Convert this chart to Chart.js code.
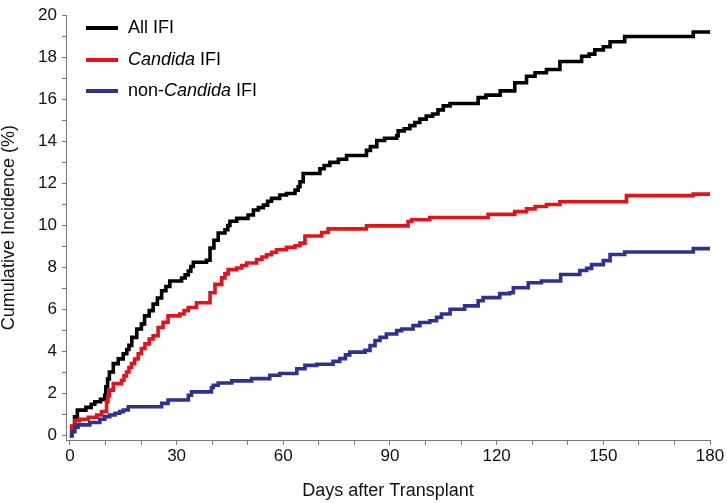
<!DOCTYPE html>
<html>
<head>
<meta charset="utf-8">
<script src="https://cdn.jsdelivr.net/npm/chart.js@4.4.1/dist/chart.umd.min.js"></script>
<style>
  html, body { margin: 0; padding: 0; background: #fff; }
  #wrap { width: 727px; height: 503px; position: relative; }
</style>
</head>
<body>
<div id="wrap"><canvas id="c" width="727" height="503"></canvas></div>
<script>
// ---- Data ----
const seriesLabels = ['All IFI', 'Candida IFI', 'non-Candida IFI'];

const allDays = [0,0.5,1.3,2.1,4.5,6.0,7.0,8.6,9.8,10.1,10.6,11.1,12.2,13.6,15.0,16.0,16.6,17.4,18.8,20.1,21.0,22.3,23.4,24.6,25.8,27.0,28.1,31.4,32.4,33.3,34.0,34.7,38.4,39.4,40.5,41.7,43.6,44.4,45.0,46.9,50.1,51.6,53.0,54.4,55.6,56.7,59.0,60.9,63.3,64.2,64.7,65.6,70.3,71.5,73.1,75.5,77.8,83.4,84.5,86.3,88.5,91.9,92.3,94.0,95.6,97.0,98.4,100.2,102.0,103.5,105.0,106.9,114.8,117.0,121.0,125.1,128.4,130.8,134.0,137.8,143.9,146.0,147.6,150.0,151.9,156.0,175.3,180];
const allCIF  = [0,0.45,0.9,1.22,1.35,1.5,1.62,1.73,1.93,2.33,2.7,3.03,3.43,3.66,3.9,4.1,4.3,4.68,5.08,5.32,5.7,5.95,6.26,6.55,6.9,7.1,7.36,7.5,7.65,7.83,8.05,8.25,8.35,8.93,9.3,9.64,9.8,10.0,10.2,10.34,10.5,10.74,10.85,10.97,11.15,11.29,11.45,11.52,11.68,11.84,12.08,12.47,12.7,12.85,13.0,13.15,13.33,13.57,13.75,14.04,14.15,14.27,14.5,14.6,14.75,14.9,15.06,15.2,15.3,15.5,15.69,15.8,16.08,16.2,16.4,16.79,17.1,17.26,17.42,17.8,18.05,18.15,18.35,18.5,18.74,18.99,19.2,19.2];

const candidaDays = [0,0.5,1.4,2.8,5.2,7.5,8.9,10.3,10.7,11.1,12.2,14.5,15.2,15.9,16.6,17.3,18.2,19.2,20.1,21.1,22.3,23.4,24.8,26.2,27.6,30.9,32.1,33.3,35.6,39.4,40.8,42.7,43.6,44.5,46.9,48.3,49.7,52.5,54.0,55.3,56.7,58.1,60.9,63.3,64.7,66.1,70.8,72.6,83.4,95.1,96.1,101.2,117.6,125.1,128.4,130.8,134.0,137.8,156.5,175.3,180];
const candidaCIF  = [0,0.45,0.72,0.79,0.88,0.99,1.15,1.62,1.9,2.17,2.48,2.64,2.85,3.03,3.25,3.43,3.65,3.9,4.15,4.37,4.6,4.76,5.15,5.4,5.7,5.79,5.95,6.1,6.33,6.8,7.2,7.51,7.7,7.9,7.98,8.1,8.22,8.38,8.5,8.61,8.73,8.85,8.96,9.04,9.16,9.5,9.67,9.84,9.98,10.19,10.27,10.38,10.53,10.66,10.79,10.9,11.0,11.13,11.42,11.49,11.49];

const nonCandidaDays = [0,0.6,1.4,2.3,5.6,8.4,9.8,11.2,12.7,14.0,15.0,16.4,25.8,27.6,33.3,34.2,39.8,40.3,41.7,45.5,51.1,56.2,59.0,63.8,66.1,69.4,74.0,75.9,77.5,78.7,83.0,84.4,85.8,87.2,89.0,91.9,93.3,96.5,98.4,101.2,103.1,104.5,106.9,111.0,114.8,116.2,120.9,123.7,124.7,128.9,132.6,138.0,143.4,145.3,146.7,150.0,151.9,156.0,175.3,180];
const nonCandidaCIF  = [0,0.2,0.41,0.52,0.63,0.79,0.91,0.99,1.07,1.15,1.23,1.38,1.54,1.7,1.93,2.09,2.3,2.4,2.51,2.61,2.72,2.88,2.96,3.19,3.35,3.4,3.54,3.67,3.85,3.98,4.06,4.29,4.53,4.68,4.84,5.0,5.08,5.24,5.39,5.47,5.63,5.79,6.02,6.18,6.42,6.57,6.76,6.8,7.04,7.28,7.36,7.67,7.86,7.96,8.14,8.33,8.62,8.74,8.9,8.9];

const xTickValues = [0,10,20,30,40,50,60,70,80,90,100,110,120,130,140,150,160,170,180];
const yTickValues = [0,1,2,3,4,5,6,7,8,9,10,11,12,13,14,15,16,17,18,19,20];

// ---- Styling ----
const colors = ['#000000', '#e3131b', '#2e3192'];
const FONT = "'Liberation Sans', Arial, Helvetica, sans-serif";
const AXIS = '#7a7a7a';

function toPoints(xs, ys) { return xs.map((x, i) => ({ x: x, y: ys[i] })); }

const datasets = [
  toPoints(allDays, allCIF),
  toPoints(candidaDays, candidaCIF),
  toPoints(nonCandidaDays, nonCandidaCIF)
].map((pts, i) => ({
  label: seriesLabels[i],
  data: pts,
  borderColor: colors[i],
  backgroundColor: colors[i],
  borderWidth: 3.6,
  stepped: true,
  pointRadius: 0,
  fill: false,
  order: 3 - i
}));

// Legend with mixed italic text
const legendPlugin = {
  id: 'mixedLegend',
  afterDraw(chart) {
    const ctx = chart.ctx;
    const rows = [
      { y: 28, parts: [['All IFI', false]] },
      { y: 60, parts: [['Candida', true], [' IFI', false]] },
      { y: 91, parts: [['non-', false], ['Candida', true], [' IFI', false]] }
    ];
    ctx.save();
    rows.forEach((r, i) => {
      ctx.strokeStyle = colors[i];
      ctx.lineWidth = 4;
      ctx.beginPath();
      ctx.moveTo(86, r.y);
      ctx.lineTo(118, r.y);
      ctx.stroke();
      let x = 128;
      ctx.fillStyle = '#000';
      ctx.textBaseline = 'middle';
      ctx.textAlign = 'left';
      r.parts.forEach(([t, it]) => {
        ctx.font = (it ? 'italic ' : '') + '18px ' + FONT;
        ctx.fillText(t, x, r.y);
        x += ctx.measureText(t).width;
      });
    });
    ctx.restore();
  }
};

new Chart(document.getElementById('c'), {
  type: 'line',
  data: { datasets },
  plugins: [legendPlugin],
  options: {
    responsive: false,
    animation: false,
    layout: { padding: { top: 12, right: 17, bottom: 0, left: 0 } },
    plugins: { legend: { display: false }, tooltip: { enabled: false } },
    scales: {
      x: {
        type: 'linear',
        min: -1.1,
        max: 180,
        afterBuildTicks(scale) { scale.ticks = xTickValues.map(v => ({ value: v })); },
        afterFit(scale) { scale.height = 63; },
        grid: { drawOnChartArea: false, drawTicks: true, tickLength: 5, tickColor: AXIS, lineWidth: 1 },
        border: { display: true, color: AXIS, width: 1 },
        ticks: {
          autoSkip: false, maxRotation: 0, padding: 1,
          color: '#111',
          font: { family: FONT, size: 17 },
          callback: (v) => (v % 30 === 0 ? String(v) : '')
        },
        title: {
          display: true, text: 'Days after Transplant', color: '#111',
          font: { family: FONT, size: 18, lineHeight: 1 },
          padding: { top: 0, bottom: 3 }
        }
      },
      y: {
        type: 'linear',
        min: -0.2,
        max: 20,
        afterBuildTicks(scale) { scale.ticks = yTickValues.map(v => ({ value: v })); },
        afterFit(scale) { scale.width = 66; },
        grid: { drawOnChartArea: false, drawTicks: true, tickLength: 4, tickColor: AXIS, lineWidth: 1 },
        border: { display: true, color: AXIS, width: 1 },
        ticks: {
          autoSkip: false, padding: 5,
          color: '#111',
          font: { family: FONT, size: 17 },
          callback: (v) => (v % 2 === 0 ? String(v) : '')
        },
        title: {
          display: true, text: 'Cumulative Incidence (%)', color: '#111',
          font: { family: FONT, size: 18, lineHeight: 1 },
          padding: { top: 0, bottom: 0 }
        }
      }
    }
  }
});
</script>
</body>
</html>
